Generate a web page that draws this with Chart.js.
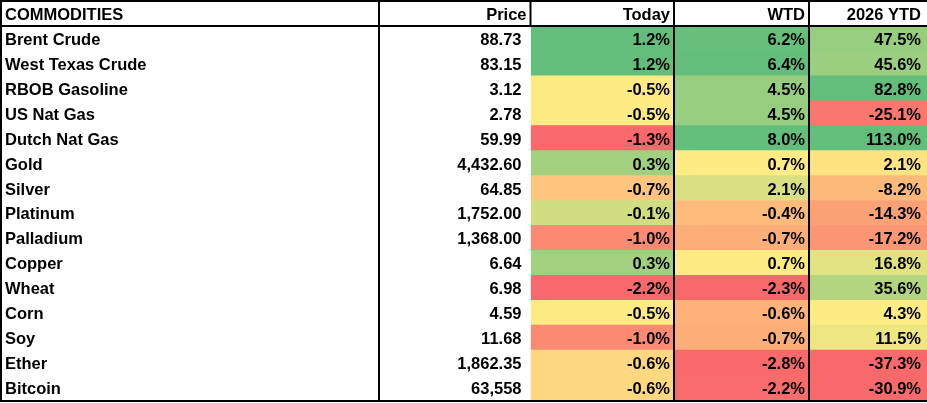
<!DOCTYPE html>
<html>
<head>
<meta charset="utf-8">
<script src="https://cdn.jsdelivr.net/npm/chart.js@4.4.0/dist/chart.umd.min.js"></script>
<style>
    html, body { margin: 0; padding: 0; background: #ffffff; }
    #wrap { width: 927px; height: 403px; position: relative; }
</style>
</head>
<body>
<div id="wrap"><canvas id="commodityTable"></canvas></div>
<script>
const headers = ['COMMODITIES', 'Price', 'Today', 'WTD', '2026 YTD'];
const commodities = [
    'Brent Crude', 'West Texas Crude', 'RBOB Gasoline', 'US Nat Gas', 'Dutch Nat Gas',
    'Gold', 'Silver', 'Platinum', 'Palladium', 'Copper',
    'Wheat', 'Corn', 'Soy', 'Ether', 'Bitcoin'
];
const prices = [88.73, 83.15, 3.12, 2.78, 59.99, 4432.60, 64.85, 1752.00, 1368.00, 6.64, 6.98, 4.59, 11.68, 1862.35, 63558];
const todayPct = [1.2, 1.2, -0.5, -0.5, -1.3, 0.3, -0.7, -0.1, -1.0, 0.3, -2.2, -0.5, -1.0, -0.6, -0.6];
const wtdPct = [6.2, 6.4, 4.5, 4.5, 8.0, 0.7, 2.1, -0.4, -0.7, 0.7, -2.3, -0.6, -0.7, -2.8, -2.2];
const ytdPct = [47.5, 45.6, 82.8, -25.1, 113.0, 2.1, -8.2, -14.3, -17.2, 16.8, 35.6, 4.3, 11.5, -37.3, -30.9];

// ---- layout (pixels of the 927 wide table) ----
const colEdges = [0, 379, 530.5, 674, 809, 927];
const headerPad = [5, 4, 4, 4, 6];
const cellPad = [5, 9, 4, 4, 6];
const FONT = 'bold 16.5px "Liberation Sans", Arial, sans-serif';

// excel style 3-colour scale (10th / 50th / 90th percentile)
const RED = [248, 105, 107];
const YELLOW = [255, 235, 132];
const GREEN = [99, 190, 123];

function percentile(values, p) {
    const s = [...values].sort((a, b) => a - b);
    const r = p * (s.length - 1);
    const lo = Math.floor(r);
    const hi = Math.ceil(r);
    return s[lo] + (s[hi] - s[lo]) * (r - lo);
}

function mix(a, b, t) {
    t = Math.max(0, Math.min(1, t));
    const c = a.map((v, i) => Math.round(v + (b[i] - v) * t));
    return `rgb(${c[0]}, ${c[1]}, ${c[2]})`;
}

function colourScale(values) {
    const lo = percentile(values, 0.1);
    const mid = percentile(values, 0.5);
    const hi = percentile(values, 0.9);
    return values.map(v => {
        if (v <= mid) return mix(RED, YELLOW, (v - lo) / (mid - lo));
        return mix(YELLOW, GREEN, (v - mid) / (hi - mid));
    });
}

function formatPrice(v) {
    const digits = v >= 10000 ? 0 : 2;
    return v.toLocaleString('en-US', { minimumFractionDigits: digits, maximumFractionDigits: digits });
}

const pctColumns = [todayPct, wtdPct, ytdPct];
const pctColours = pctColumns.map(colourScale);

// text per column, per data row
const cellText = [
    commodities,
    prices.map(formatPrice),
    todayPct.map(v => v.toFixed(1) + '%'),
    wtdPct.map(v => v.toFixed(1) + '%'),
    ytdPct.map(v => v.toFixed(1) + '%')
];

const rowLabels = [headers[0], ...commodities];

function cellColour(col, row) {
    if (row === 0 || col < 2) return '#ffffff';
    return pctColours[col - 2][row - 1];
}

// one floating bar per cell, a dataset per column
const datasets = headers.map((h, col) => ({
    label: h,
    data: rowLabels.map(() => [colEdges[col], colEdges[col + 1]]),
    backgroundColor: rowLabels.map((r, row) => cellColour(col, row)),
    borderWidth: 0,
    grouped: false,
    barPercentage: 1,
    categoryPercentage: 1
}));

const tablePlugin = {
    id: 'tableText',
    afterDatasetsDraw(chart) {
        const { ctx, scales: { x, y } } = chart;
        const rowTop = i => y.getPixelForValue(i - 0.5);
        ctx.save();

        // text
        ctx.font = FONT;
        ctx.fillStyle = '#000000';
        ctx.textBaseline = 'alphabetic';
        rowLabels.forEach((r, row) => {
            const base = y.getPixelForValue(row) + 6.5;
            headers.forEach((h, col) => {
                const txt = row === 0 ? h : cellText[col][row - 1];
                const pad = row === 0 ? headerPad[col] : cellPad[col];
                if (col === 0) {
                    ctx.textAlign = 'left';
                    ctx.fillText(txt, x.getPixelForValue(colEdges[0]) + pad, base);
                } else {
                    ctx.textAlign = 'right';
                    ctx.fillText(txt, x.getPixelForValue(colEdges[col + 1]) - pad, base);
                }
            });
        });

        // borders
        ctx.strokeStyle = '#000000';
        ctx.lineWidth = 2;
        const top = 1;
        const headBottom = rowTop(1);
        const bottom = rowTop(rowLabels.length) + 1;
        const line = (x1, y1, x2, y2) => {
            ctx.beginPath();
            ctx.moveTo(x1, y1);
            ctx.lineTo(x2, y2);
            ctx.stroke();
        };
        line(0, top, chart.width, top);
        line(0, headBottom, chart.width, headBottom);
        line(0, bottom, chart.width, bottom);
        line(1, 0, 1, bottom + 1);
        [1, 3, 4].forEach(i => {
            const px = x.getPixelForValue(colEdges[i]);
            line(px, 0, px, bottom + 1);
        });
        // price | today split only in the header
        const px2 = x.getPixelForValue(colEdges[2]);
        line(px2, 0, px2, headBottom);
        ctx.restore();
    }
};

new Chart(document.getElementById('commodityTable'), {
    type: 'bar',
    data: { labels: rowLabels, datasets: datasets },
    options: {
        indexAxis: 'y',
        responsive: true,
        maintainAspectRatio: false,
        animation: false,
        layout: { padding: { top: 1, bottom: 3, left: 0, right: 0 } },
        scales: {
            x: { type: 'linear', min: colEdges[0], max: colEdges[colEdges.length - 1], display: false },
            y: { type: 'category', display: false }
        },
        plugins: {
            legend: { display: false },
            tooltip: { enabled: false }
        }
    },
    plugins: [tablePlugin]
});
</script>
</body>
</html>
